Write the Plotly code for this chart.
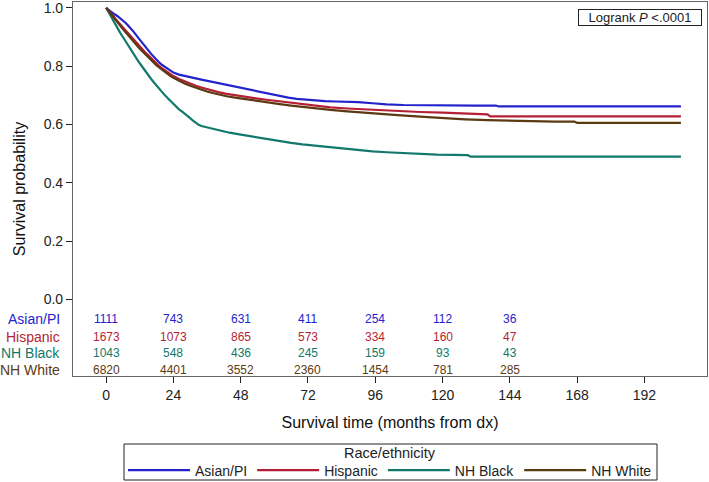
import plotly.graph_objects as go

# ---- data ----
groups = ["Asian/PI", "Hispanic", "NH Black", "NH White"]
colors = ["#2323cc", "#b51f35", "#11796c", "#5b3a12"]

asian_t = [0, 1, 2, 3, 4, 5, 6, 7, 8, 9, 10, 11, 12, 13, 14, 15, 16, 17, 18, 19, 20, 21, 22, 23, 24, 26, 28, 30, 32, 34, 36, 38, 40, 42, 44, 46, 48, 50, 53, 56, 59, 62, 65, 68, 71, 74, 78, 82, 86, 90, 95, 100, 106, 112, 118, 124, 132, 139, 140, 205]
asian_s = [1.0, 0.992, 0.985, 0.978, 0.972, 0.965, 0.957, 0.948, 0.938, 0.928, 0.916, 0.903, 0.890, 0.878, 0.866, 0.855, 0.843, 0.832, 0.822, 0.812, 0.804, 0.797, 0.790, 0.784, 0.778, 0.771, 0.766, 0.762, 0.758, 0.754, 0.750, 0.746, 0.742, 0.737, 0.733, 0.728, 0.724, 0.720, 0.714, 0.708, 0.702, 0.697, 0.692, 0.688, 0.685, 0.682, 0.680, 0.679, 0.678, 0.677, 0.673, 0.669, 0.667, 0.666, 0.665, 0.665, 0.665, 0.665, 0.662, 0.662]

hisp_t = [0, 1, 2, 3, 4, 5, 6, 7, 8, 9, 10, 11, 12, 13, 14, 15, 16, 17, 18, 19, 20, 21, 22, 23, 24, 26, 28, 30, 32, 34, 36, 38, 40, 43, 46, 50, 54, 58, 62, 66, 70, 75, 80, 86, 92, 98, 104, 112, 120, 126, 132, 136, 137, 205]
hisp_s = [1.0, 0.988, 0.977, 0.966, 0.955, 0.944, 0.933, 0.922, 0.912, 0.901, 0.890, 0.879, 0.868, 0.857, 0.847, 0.838, 0.828, 0.818, 0.809, 0.800, 0.792, 0.785, 0.778, 0.772, 0.766, 0.756, 0.748, 0.740, 0.733, 0.727, 0.721, 0.716, 0.711, 0.705, 0.700, 0.694, 0.689, 0.684, 0.679, 0.675, 0.670, 0.665, 0.659, 0.655, 0.652, 0.649, 0.646, 0.643, 0.641, 0.639, 0.637, 0.635, 0.628, 0.628]

black_t = [0, 1, 2, 3, 4, 5, 6, 7, 8, 9, 10, 11, 12, 13, 14, 15, 16, 17, 18, 19, 20, 21, 22, 23, 24, 25, 26, 27, 28, 29, 30, 31, 32, 33, 34, 36, 38, 40, 42, 44, 47, 50, 53, 56, 59, 62, 66, 70, 74, 78, 82, 86, 90, 95, 100, 106, 112, 118, 124, 129, 130, 205]
black_s = [1.0, 0.982, 0.965, 0.948, 0.932, 0.915, 0.900, 0.884, 0.869, 0.853, 0.838, 0.824, 0.810, 0.796, 0.783, 0.770, 0.757, 0.745, 0.733, 0.722, 0.711, 0.700, 0.690, 0.680, 0.670, 0.660, 0.652, 0.645, 0.638, 0.630, 0.622, 0.613, 0.605, 0.599, 0.595, 0.590, 0.585, 0.580, 0.576, 0.572, 0.567, 0.562, 0.557, 0.552, 0.547, 0.542, 0.537, 0.532, 0.528, 0.524, 0.519, 0.515, 0.511, 0.508, 0.505, 0.502, 0.499, 0.497, 0.496, 0.495, 0.490, 0.490]

white_t = [0, 1, 2, 3, 4, 5, 6, 7, 8, 9, 10, 11, 12, 13, 14, 15, 16, 17, 18, 19, 20, 21, 22, 23, 24, 26, 28, 30, 32, 34, 36, 38, 40, 43, 46, 50, 54, 58, 62, 66, 70, 75, 80, 86, 92, 98, 104, 112, 120, 128, 136, 144, 152, 160, 167, 168, 205]
white_s = [1.0, 0.987, 0.975, 0.963, 0.951, 0.939, 0.927, 0.915, 0.904, 0.893, 0.882, 0.871, 0.860, 0.850, 0.840, 0.830, 0.821, 0.812, 0.803, 0.795, 0.787, 0.780, 0.773, 0.766, 0.760, 0.750, 0.741, 0.733, 0.726, 0.719, 0.713, 0.708, 0.703, 0.697, 0.692, 0.686, 0.680, 0.675, 0.670, 0.665, 0.660, 0.655, 0.650, 0.645, 0.640, 0.636, 0.632, 0.627, 0.622, 0.618, 0.615, 0.613, 0.611, 0.610, 0.610, 0.606, 0.606]

risk_times = [0, 24, 48, 72, 96, 120, 144, 168]
asian_risk = [1111, 743, 631, 411, 254, 112, 36, None]
hisp_risk = [1673, 1073, 865, 573, 334, 160, 47, None]
black_risk = [1043, 548, 436, 245, 159, 93, 43, None]
white_risk = [6820, 4401, 3552, 2360, 1454, 781, 285, None]

x_ticks = [0, 24, 48, 72, 96, 120, 144, 168, 192]
y_ticks = [0.0, 0.2, 0.4, 0.6, 0.8, 1.0]

series = [(asian_t, asian_s), (hisp_t, hisp_s), (black_t, black_s), (white_t, white_s)]
risks = [asian_risk, hisp_risk, black_risk, white_risk]
row_y = [-0.066, -0.128, -0.183, -0.241]

FONT = "Arial, Liberation Sans, sans-serif"
W, H = 709, 482
ML, MR, MT, MB = 73, 2, 2, 106
PW, PH = W - ML - MR, H - MT - MB


def px_x(p):
    return (p - ML) / PW


def px_y(p):
    return (H - MB - p) / PH


fig = go.Figure()
for g, c, (t, s) in zip(groups, colors, series):
    fig.add_trace(go.Scatter(x=t, y=s, mode="lines", name=g,
                             line=dict(color=c, width=2.2, shape="linear")))

ann = []
for g, c, r, yy in zip(groups, colors, risks, row_y):
    ann.append(dict(x=-0.017, y=yy, xref="paper", yref="y", text=g, showarrow=False,
                    xanchor="right", yanchor="middle",
                    font=dict(family=FONT, size=14, color=c)))
    for tt, n in zip(risk_times, r):
        if n is None:
            continue
        ann.append(dict(x=tt, y=yy, xref="x", yref="y", text=str(n), showarrow=False,
                        xanchor="center", yanchor="middle",
                        font=dict(family=FONT, size=12, color=c)))

ann.append(dict(x=0.992, y=0.982, xref="paper", yref="paper", text="Logrank <i>P</i> <.0001",
                showarrow=False, xanchor="right", yanchor="top", width=122, align="center",
                font=dict(family=FONT, size=13, color="#222"),
                bordercolor="#222", borderwidth=1, borderpad=0, bgcolor="white"))

# legend title
ann.append(dict(x=0.5, y=px_y(453), xref="paper", yref="paper", text="Race/ethnicity",
                showarrow=False, xanchor="center", yanchor="middle",
                font=dict(family=FONT, size=14.5, color="#222")))

# legend frame
shapes = [dict(type="rect", xref="paper", yref="paper",
               x0=px_x(124), x1=px_x(657), y0=px_y(480), y1=px_y(444),
               line=dict(color="#222", width=1), fillcolor="rgba(0,0,0,0)", layer="above")]

fig.update_layout(
    width=W, height=H,
    margin=dict(l=ML, r=MR, t=MT, b=MB),
    paper_bgcolor="white", plot_bgcolor="white",
    font=dict(family=FONT, size=14, color="#222"),
    annotations=ann,
    shapes=shapes,
    showlegend=True,
    legend=dict(orientation="h", x=0.5, xanchor="center", xref="paper",
                y=(H - 470.5) / H, yanchor="middle", yref="container",
                borderwidth=0, bgcolor="rgba(0,0,0,0)",
                itemwidth=62, tracegroupgap=0,
                font=dict(family=FONT, size=14, color="#222")),
    xaxis=dict(range=[-11.8, 214.3], tickvals=x_ticks, ticktext=[str(v) for v in x_ticks],
               automargin=False, ticklabeloverflow="allow",
               showgrid=False, zeroline=False, showline=True, linecolor="#666", linewidth=1.2,
               mirror=True, ticks="outside", ticklen=6, tickcolor="#222",
               tickfont=dict(size=14, color="#222"),
               title=dict(text="Survival time (months from dx)", standoff=14,
                          font=dict(size=16, color="#111"))),
    yaxis=dict(range=[-0.262, 1.02], tickvals=y_ticks, ticktext=[f"{v:.1f}" for v in y_ticks],
               automargin=False, ticklabeloverflow="allow",
               showgrid=False, zeroline=False, showline=True, linecolor="#666", linewidth=1.2,
               mirror=True, ticks="outside", ticklen=6, tickcolor="#222",
               tickfont=dict(size=14, color="#222"),
               title=dict(text="Survival probability", standoff=14,
                          font=dict(size=16, color="#111"))),
)

fig.write_html("out.html", config={"displayModeBar": False},
               post_script="document.body.style.margin='0';document.body.style.padding='0';")
